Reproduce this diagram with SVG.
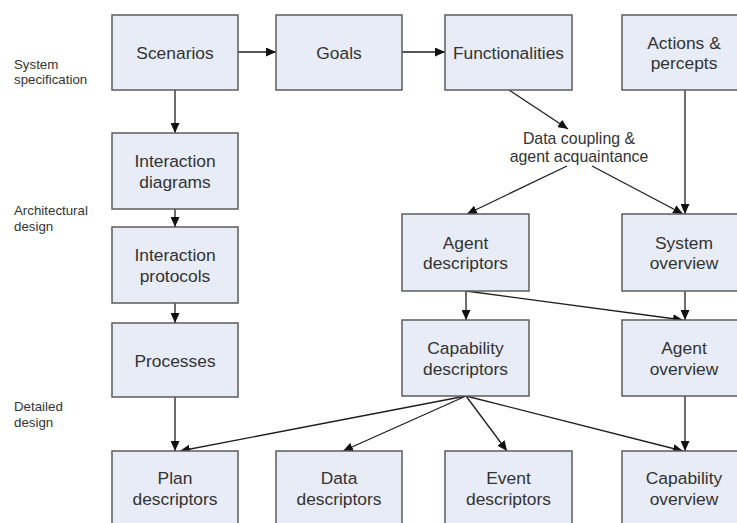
<svg xmlns="http://www.w3.org/2000/svg" width="737" height="523" viewBox="0 0 737 523">
  <style>
    .box { fill: #e7ecf6; stroke: #5c5c5c; stroke-width: 1.5; }
    .node text { font-family: "Liberation Sans", Arial, sans-serif; font-size: 17.4px; fill: #333; text-anchor: middle; }
    .stage { font-family: "Liberation Sans", Arial, sans-serif; font-size: 13.3px; fill: #333; }
    .note { font-family: "Liberation Sans", Arial, sans-serif; font-size: 15.9px; fill: #333; text-anchor: middle; }
    .edges path { fill: none; stroke: #1e1e1e; stroke-width: 1.3; marker-end: url(#arrow); }
  </style>
  <defs>
    <marker id="arrow" markerUnits="userSpaceOnUse" markerWidth="10" markerHeight="9" refX="10" refY="4.5" orient="auto">
      <path d="M0,0 L10,4.5 L0,9 z" fill="#111"/>
    </marker>
  </defs>
  <rect width="737" height="523" fill="#fff"/>

  <!-- phase labels -->
  <g id="stage-labels">
    <text class="stage" x="14" y="68.5">System</text>
    <text class="stage" x="14" y="84">specification</text>
    <text class="stage" x="14" y="215">Architectural</text>
    <text class="stage" x="14" y="230.5">design</text>
    <text class="stage" x="14" y="411">Detailed</text>
    <text class="stage" x="14" y="427">design</text>
  </g>

  <!-- connectors -->
  <g id="connectors" class="edges">
    <path d="M238,52 H276"/>
    <path d="M402,52 H445"/>
    <path d="M175,90 V133"/>
    <path d="M175,209 V227"/>
    <path d="M175,303 V323"/>
    <path d="M175,397 V451"/>
    <path d="M509,90 L568,129"/>
    <path d="M567,166 L467,214"/>
    <path d="M592,166 L683,214"/>
    <path d="M685,90 V214"/>
    <path d="M466,291 V320"/>
    <path d="M466,291 L683,320"/>
    <path d="M685,291 V320"/>
    <path d="M466,396 L180,451"/>
    <path d="M466,396 L343,451"/>
    <path d="M466,396 L507,451"/>
    <path d="M466,396 L683,451"/>
    <path d="M685,396 V451"/>
  </g>

  <g id="coupling-label">
    <text class="note" x="579" y="143.5">Data coupling &amp;</text>
    <text class="note" x="579" y="162">agent acquaintance</text>
  </g>

  <!-- nodes -->
  <g id="scenarios" class="node">
    <rect class="box" x="112" y="15" width="126" height="75"/>
    <text x="175" y="59">Scenarios</text>
  </g>
  <g id="goals" class="node">
    <rect class="box" x="276" y="15" width="126" height="75"/>
    <text x="339" y="59">Goals</text>
  </g>
  <g id="functionalities" class="node">
    <rect class="box" x="445" y="15" width="127" height="75"/>
    <text x="508.5" y="59">Functionalities</text>
  </g>
  <g id="actions-percepts" class="node">
    <rect class="box" x="622" y="15" width="126" height="75"/>
    <text x="684" y="48.5">Actions &amp;</text>
    <text x="684" y="69">percepts</text>
  </g>
  <g id="interaction-diagrams" class="node">
    <rect class="box" x="112" y="133" width="126" height="76"/>
    <text x="175" y="167">Interaction</text>
    <text x="175" y="187.5">diagrams</text>
  </g>
  <g id="interaction-protocols" class="node">
    <rect class="box" x="112" y="227" width="126" height="76"/>
    <text x="175" y="261">Interaction</text>
    <text x="175" y="281.5">protocols</text>
  </g>
  <g id="processes" class="node">
    <rect class="box" x="112" y="323" width="126" height="74"/>
    <text x="175" y="366.5">Processes</text>
  </g>
  <g id="agent-descriptors" class="node">
    <rect class="box" x="402" y="214" width="127" height="77"/>
    <text x="465.5" y="248.5">Agent</text>
    <text x="465.5" y="269">descriptors</text>
  </g>
  <g id="system-overview" class="node">
    <rect class="box" x="622" y="214" width="126" height="77"/>
    <text x="684" y="248.5">System</text>
    <text x="684" y="269">overview</text>
  </g>
  <g id="capability-descriptors" class="node">
    <rect class="box" x="402" y="320" width="127" height="76"/>
    <text x="465.5" y="354">Capability</text>
    <text x="465.5" y="374.5">descriptors</text>
  </g>
  <g id="agent-overview" class="node">
    <rect class="box" x="622" y="320" width="126" height="76"/>
    <text x="684" y="354">Agent</text>
    <text x="684" y="374.5">overview</text>
  </g>
  <g id="plan-descriptors" class="node">
    <rect class="box" x="112" y="451" width="126" height="80"/>
    <text x="175" y="484">Plan</text>
    <text x="175" y="504.5">descriptors</text>
  </g>
  <g id="data-descriptors" class="node">
    <rect class="box" x="276" y="451" width="126" height="80"/>
    <text x="339" y="484">Data</text>
    <text x="339" y="504.5">descriptors</text>
  </g>
  <g id="event-descriptors" class="node">
    <rect class="box" x="445" y="451" width="127" height="80"/>
    <text x="508.5" y="484">Event</text>
    <text x="508.5" y="504.5">descriptors</text>
  </g>
  <g id="capability-overview" class="node">
    <rect class="box" x="622" y="451" width="126" height="80"/>
    <text x="684" y="484">Capability</text>
    <text x="684" y="504.5">overview</text>
  </g>
</svg>
